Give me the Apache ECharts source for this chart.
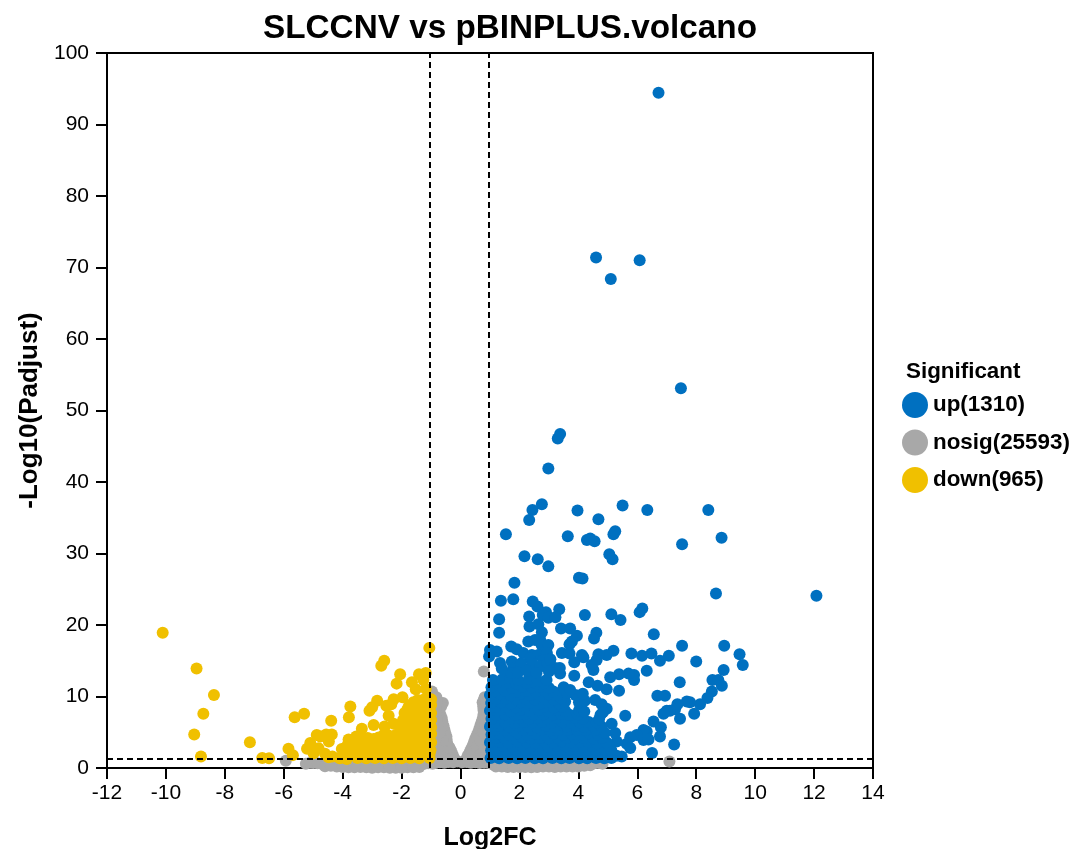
<!DOCTYPE html>
<html><head><meta charset="utf-8">
<style>html,body{margin:0;padding:0;background:#fff}#c{width:1072px;height:849px}</style>
<script src="https://cdn.jsdelivr.net/npm/echarts@6/dist/echarts.min.js"></script>
</head><body><div id="c"></div>
<script>
const seriesNames = ['up(1310)', 'nosig(25593)', 'down(965)'];
const thresholdX = [-1.03, 0.97];
const thresholdY = [1.3];

const upPoints = [
[6.72,94.45],[4.6,71.4],[6.08,71],[5.1,68.4],[7.48,53.1],[3.38,46.7],[3.3,46.1],[2.98,41.9],
[2.76,36.9],[2.44,36.1],[2.33,34.7],[1.54,32.7],[3.97,36],[4.68,34.8],[5.5,36.7],[6.34,36.1],[8.41,36.1],[8.86,32.2],[7.52,31.3],
[3.64,32.4],[4.29,31.9],[4.4,32.1],[4.55,31.7],[5.19,32.7],[5.25,33.1],[5.05,29.9],[5.16,29.2],[2.17,29.6],[2.62,29.2],[2.98,28.2],
[4.02,26.6],[4.14,26.5],[1.83,25.9],[8.67,24.4],[12.08,24.1],[1.37,23.4],[1.79,23.6],[2.45,23.3],[2.61,22.6],[3.35,22.2],[2.9,21.8],[2.79,21.4],
[2.98,21],[3.22,21.1],[2.33,21.2],[4.22,21.4],[5.12,21.5],[5.43,20.7],[6.17,22.3],[6.08,21.8],[1.31,20.8],[1.31,18.9],[2.34,19.8],[2.64,20.1],
[2.76,19],[3.41,19.5],[3.72,19.5],[3.95,18.5],[4.61,18.9],[4.53,18.1],[6.56,18.7],[2.7,18],[3.78,17.7],[3.7,17.3],[2.3,17.7],[2.53,17.9],[2.75,17.2],[2.98,17.2],
[7.52,17.1],[8.95,17.1],[1.72,17],[1.91,16.6],[1,16.5],[1.23,16.3],[0.97,15.6],[3.44,16.1],[3.7,16],[4.12,15.8],[5.19,16.4],[4.96,15.8],[4.68,15.9],
[5.8,16],[6.16,15.7],[6.48,16],[7.07,15.7],[6.77,15],[8,14.9],[9.47,15.9],[9.58,14.4],[8.93,13.7],[8.55,12.3],[8.75,12.3],[8.87,11.5],[8.53,10.7],[8.38,9.8],[8.13,8.9],
[7.93,7.6],[7.79,9.2],[7.68,9.3],[7.45,6.9],[7.44,12],[7.36,8.9],[7.28,8.2],[7.11,8],[7,8],[6.89,7.6],[6.94,10.1],[6.68,10.1],[6.55,6.5],[6.8,5.7],[6.77,4.4],[7.25,3.3],[6.5,2.1],
[6.32,13.6],[5.89,12.3],[5.89,13],[5.7,13.2],[5.38,13.1],[5.08,12.7],[5.38,10.8],[4.96,11],[4.65,11.5],[4.35,12],[3.86,12.9],[4.51,13.7],[4.45,14.4],[4.62,15.1],[4.17,15.5],[3.86,14.8],
[3.32,13.9],[3.21,13.9],[3.38,13.2],[5.59,7.3],[6.32,5.1],[6.21,5.3],[5.98,4.6],[5.76,4.3],[5.64,3.4],[5.76,2.8],[5.47,1.6],[5.3,1.7],[6.21,3.9],[6.38,4],[5.3,3.7],[5.25,4.9],[5.13,6.2],[4.96,8.3],[4.79,8.9],[4.57,9.5],
[2.13,16.1],[2.42,15.8],[2.64,15.8],[2.93,16.1],[2.36,15.3],[2.81,15.1],[1.34,14.7],[1.74,14.9],[1.79,14],[3.2,14],[3.37,14],
[2.14,13.9],[1.55,13.2],[2.45,14.5],[2.05,14.6],[2.7,14.2],[2.95,14.7],[3.05,15.2],
[1.02,1.4],[1.31,1.35],[1.63,1.4],[1.92,1.36],[2.2,1.4],[2.52,1.38],[2.8,1.35],[3.12,1.4],[3.42,1.36],[3.7,1.4],[4.02,1.35],[4.3,1.38],[4.6,1.4],[4.88,1.37],[5.12,1.4],
[1.15,1.95],[1.47,2],[1.78,1.9],[2.08,2],[2.36,1.95],[2.66,2],[2.96,1.9],[3.27,2],[3.56,1.95],[3.86,2],[4.16,1.9],[4.46,2],[4.74,1.95],[5.02,2],
[1.04,2.5],[1.3,2.6],[1.6,2.45],[1.9,2.6],[2.22,2.5],[2.5,2.65],[2.82,2.45],[3.1,2.6],[3.4,2.5],[3.72,2.62],[4,2.45],[4.32,2.6],[4.6,2.5],[4.9,2.55],[5.12,2.45],
[1.16,3.05],[1.46,3.1],[1.76,3],[2.07,3.15],[2.38,3.05],[2.68,3.1],[2.98,3],[3.28,3.1],[3.58,3.05],[3.87,3.1],[4.18,3],[4.47,3.1],[4.78,3],[5.04,3.1],
[1,3.6],[1.33,3.7],[1.62,3.55],[1.95,3.72],[2.25,3.6],[2.55,3.5],[2.85,3.7],[3.15,3.6],[3.45,3.75],[3.75,3.55],[4.05,3.7],[4.35,3.6],[4.62,3.45],[4.95,3.6],
[1.2,4.2],[1.48,4.25],[1.8,4.15],[2.1,4.25],[2.4,4.15],[2.7,4.2],[3,4.15],[3.3,4.25],[3.6,4.2],[3.9,4.15],[4.2,4.2],[4.5,4.15],[4.8,4.2],
[1.05,4.7],[1.35,4.8],[1.65,4.65],[1.92,4.85],[2.28,4.7],[2.58,4.8],[2.88,4.65],[3.18,4.85],[3.48,4.7],[3.78,4.8],[4.08,4.65],[4.38,4.85],[4.68,4.6],[4.9,4.9],
[1.18,5.3],[1.5,5.35],[1.82,5.25],[2.13,5.4],[2.44,5.3],[2.74,5.35],[3.05,5.25],[3.35,5.35],[3.65,5.3],[3.95,5.35],[4.25,5.3],[4.6,5.35],
[1,5.8],[1.32,5.9],[1.66,5.75],[1.98,5.95],[2.3,5.8],[2.6,5.7],[2.9,5.95],[3.22,5.75],[3.62,5.85],[3.92,5.9],[4.2,5.75],[4.5,5.95],[4.78,5.8],
[1.2,6.35],[1.52,6.4],[1.84,6.3],[2.16,6.45],[2.46,6.35],[2.78,6.45],[3.08,6.35],[3.48,6.4],[3.76,6.35],[4.05,6.4],[4.35,6.45],[4.62,6.35],
[1.05,6.9],[1.36,7],[1.68,6.85],[2,7],[2.32,6.85],[2.62,7.05],[2.94,6.9],[3.26,7],[3.58,6.85],[3.9,7],[4.15,6.9],[4.7,6.8],
[1.2,7.45],[1.52,7.5],[1.85,7.4],[2.18,7.55],[2.5,7.45],[2.82,7.5],[3.14,7.45],[3.42,7.55],[3.7,7.45],[3.98,7.5],[4.75,7.4],
[1,8],[1.34,8.1],[1.7,7.95],[2.02,8.1],[2.35,8],[2.66,8.15],[2.98,7.95],[3.3,8.1],[3.55,8],[4.02,8.05],[4.2,7.9],[4.83,7.8],
[1.18,8.55],[1.52,8.6],[1.88,8.5],[2.2,8.65],[2.52,8.55],[2.84,8.6],[3.18,8.5],[3.45,8.6],[4.08,8.6],
[1.04,9.1],[1.38,9.2],[1.72,9.05],[2.05,9.2],[2.38,9.1],[2.7,9],[3.02,9.2],[3.34,9.05],[3.55,9.3],[4.02,9.2],[4.22,9.4],
[1.2,9.65],[1.55,9.7],[1.88,9.6],[2.2,9.75],[2.52,9.6],[2.85,9.7],[3.18,9.6],[3.42,9.75],
[1,10.2],[1.35,10.3],[1.7,10.15],[2.02,10.35],[2.36,10.2],[2.68,10.1],[3,10.3],[3.3,10.2],[3.9,10.2],[4.15,10.4],
[1.18,10.75],[1.52,10.8],[1.88,10.7],[2.22,10.85],[2.55,10.75],[2.85,10.8],[3.15,10.7],[3.62,10.5],
[1.05,11.3],[1.4,11.4],[1.75,11.25],[2.08,11.4],[2.42,11.3],[2.72,11.4],[3,11.2],[3.5,11.3],[3.72,10.9],
[1.22,11.85],[1.58,11.9],[1.9,11.8],[2.25,11.9],[2.58,11.8],[2.82,11.85],
[1.1,12.3],[1.42,12.4],[1.68,12.6],[1.95,12.3],[2.32,12.5],[2.62,12.2],[2.92,12.3],
[1.72,13.3],[1.95,13.4],[2.25,13.6],[2.58,13.3],[3,13.5],
[1.4,13.9]
];

const nosigPoints = [
[-5.93,1],[7.09,0.9],[0.79,13.5],[-0.6,9.1],[-0.97,10.7],[-0.82,9.9],
[-5.25,0.6],[-5,0.7],[-4.7,0.6],[-4.4,0.7],[-4.1,0.65],[-3.8,0.7],[-3.5,0.6],[-3.2,0.7],[-2.9,0.65],[-2.6,0.7],[-2.3,0.6],[-2,0.7],[-1.7,0.65],[-1.4,0.7],[-1.1,0.65],
[-0.85,0.7],[-0.55,0.75],[-0.25,0.8],[0.05,0.8],[0.35,0.75],[0.65,0.7],[0.95,0.7],[1.25,0.65],[1.55,0.7],[1.85,0.6],[2.15,0.7],[2.45,0.65],[2.75,0.6],[3.05,0.7],[3.35,0.65],[3.65,0.6],[3.95,0.7],[4.25,0.6],[4.55,0.65],[4.82,0.6],
[-5.1,0.75],[-4.85,0.65],[-4.55,0.6],[-4.25,0.65],[-3.95,0.6],[-3.65,0.65],[-3.35,0.6],[-3.05,0.55],[-2.75,0.6],[-2.45,0.5],[-2.15,0.55],[-1.85,0.5],[-1.55,0.5],[-1.25,0.55],[-0.95,0.6],[-0.7,0.8],[-0.4,0.85],[-0.1,0.9],[0.2,0.85],[0.5,0.8],[0.8,0.75],
[1.1,0.5],[1.4,0.45],[1.7,0.5],[2,0.4],[2.3,0.45],[2.6,0.4],[2.9,0.45],[3.2,0.4],[3.5,0.45],[3.8,0.4],[4.1,0.45],[4.4,0.6],[4.7,0.7],
[-4.6,0.25],[-4.2,0.2],[-3.8,0.1],[-3.4,0.15],[-3,0.05],[-2.6,0.1],[-2.2,0.05],[-1.8,0.1],[-1.4,0.15],[1.2,0.2],[1.6,0.15],[2,0.15],[2.4,0.1],[2.8,0.2],[3.2,0.15],[3.6,0.2],[4,0.2],[4.4,0.4],
[-4.4,0.3],[-4,0.15],[-3.6,0.1],[-3.2,0.1],[-2.8,0.1],[-2.4,0.05],[-2,0.05],[-1.6,0.1],[1.4,0.2],[1.8,0.15],[2.2,0.15],[2.6,0.15],[3,0.2],[3.4,0.2],[3.8,0.2],[4.2,0.3],
[-0.22,1.4],[-0.32,2.4],[-0.45,3.4],[-0.48,4.4],[-0.55,5.4],[-0.62,6.5],[-0.68,7.4],[-0.75,8.3],
[-0.27,1.9],[-0.38,2.9],[-0.47,3.9],[-0.52,4.9],[-0.58,5.9],[-0.64,7],[-0.72,7.9],[-0.66,8.6],
[-0.5,1.3],[-0.6,2.4],[-0.75,3.4],[-0.72,4.5],[-0.82,5.5],[-0.85,6.6],[-0.9,7.6],[-0.92,8.8],[-0.88,1.4],[-0.95,2.5],[-0.95,3.6],[-0.95,4.8],
[-0.7,1.9],[-0.78,2.9],[-0.62,3.9],[-0.85,4],[-0.7,5],[-0.92,5],[-0.78,6],[-0.95,6],[-0.82,7.1],[-0.95,7.1],[-0.85,8.1],[-0.8,9],
[0.2,1.3],[0.32,2.3],[0.42,3.2],[0.5,4.1],[0.6,5],[0.68,6],[0.76,7],[0.78,8.1],[0.75,9.2],[0.82,9.9],
[0.25,1.8],[0.37,2.75],[0.46,3.65],[0.55,4.55],[0.64,5.5],[0.72,6.5],[0.78,7.5],[0.77,8.6],[0.8,9.6],
[0.5,1.4],[0.65,2.4],[0.75,3.3],[0.8,4.4],[0.88,5.4],[0.9,6.4],[0.92,7.4],[0.9,8.6],[0.85,1.4],[0.9,2.5],
[0.4,1.9],[0.55,2.9],[0.7,1.9],[0.68,3.8],[0.8,2.9],[0.9,3.8],[0.78,5],[0.85,6],[0.88,7],[0.9,8],[0.88,9.2]
];

const downPoints = [
[-10.11,18.9],[-8.96,13.9],[-8.37,10.2],[-8.73,7.6],[-9.04,4.7],[-8.81,1.6],[-7.15,3.6],[-6.73,1.4],[-6.5,1.35],[-5.84,2.7],[-5.69,1.8],[-5.63,7.1],[-5.31,7.6],
[-5.1,3.5],[-5.21,2.7],[-4.82,2.75],[-4.99,2.05],[-4.88,4.6],[-4.76,4.4],[-4.56,4.7],[-4.37,4.7],[-4.47,3.7],[-4.39,6.6],[-3.79,7.1],[-3.74,8.6],[-3.35,5.5],[-2.95,6],
[-3.09,8],[-3,8.5],[-2.83,9.4],[-2.52,8.7],[-2.44,7.3],[-2.58,5.8],[-2.27,6.2],[-2.27,9.6],[-1.97,9.9],[-2.69,14.3],[-2.59,15],[-2.05,13.1],[-2.17,11.8],[-1.65,12],[-1.52,11],
[-1.41,13.1],[-1.18,13.3],[-1.26,12.3],[-1.18,11.1],[-1.06,16.8],[-4.03,2.66],[-3.8,4],[-3.54,4.4],[-3.29,4.15],[-2.95,4.05],[-2.61,4.6],[-2.35,8.9],
[-4.48,1.5],[-4.1,1.35],[-3.86,1.25],[-3.5,1.4],[-3.2,1.35],[-2.9,1.4],[-2.6,1.35],[-2.3,1.4],[-2,1.35],[-1.7,1.4],[-1.4,1.35],[-1.05,1.4],
[-4.6,2],[-4.35,1.6],[-3.72,1.9],[-3.45,2],[-3.15,1.95],[-2.85,2],[-2.55,1.95],[-2.25,2],[-1.95,1.9],[-1.65,2],[-1.35,1.95],[-1.05,2],
[-3.95,2.5],[-3.6,2.6],[-3.3,2.45],[-3,2.6],[-2.7,2.5],[-2.4,2.65],[-2.1,2.5],[-1.8,2.6],[-1.5,2.45],[-1.2,2.6],[-1.02,2.5],
[-3.85,3.1],[-3.5,3.1],[-3.2,3.05],[-2.9,3.1],[-2.62,3.05],[-2.35,3.1],[-2.05,3.05],[-1.75,3.15],[-1.45,3.05],[-1.15,3.1],
[-3.75,3.6],[-3.4,3.5],[-3.1,3.65],[-2.8,3.5],[-2.5,3.7],[-2.2,3.55],[-1.9,3.7],[-1.6,3.6],[-1.3,3.65],[-1,3.6],
[-3.15,4.2],[-2.78,4.25],[-2.38,4.15],[-2.05,4.2],[-1.75,4.2],[-1.45,4.2],[-1.15,4.25],
[-2.5,4.7],[-2.2,4.6],[-2.05,4.9],[-1.85,4.7],[-1.55,4.8],[-1.25,4.65],[-1,4.8],
[-2.02,5.3],[-1.7,5.3],[-1.4,5.25],[-1.1,5.3],
[-2.05,5.6],[-1.8,5.8],[-1.5,5.6],[-1.2,5.8],[-1,5.7],
[-1.95,6.2],[-1.6,6.25],[-1.3,6.2],[-1.05,6.2],
[-1.95,6.7],[-1.7,6.8],[-1.42,6.65],[-1.18,6.8],[-1,6.7],
[-1.82,7.25],[-1.55,7.25],[-1.3,7.2],[-1.08,7.25],
[-1.9,7.7],[-1.65,7.8],[-1.4,7.7],[-1.18,7.85],[-1,7.7],
[-1.8,8.25],[-1.55,8.3],[-1.3,8.25],[-1.08,8.3],
[-1.75,8.7],[-1.5,8.85],[-1.25,8.7],[-1,8.8],[-1.6,9.2],[-1.35,9.25],[-1.1,9.2],[-1.45,9.5],[-1.2,9.7],[-1,9.6]
];

const font = '"Liberation Sans", Arial, sans-serif';
const seriesData = [upPoints, nosigPoints, downPoints];
const seriesColors = ['#0070C0', '#A8A8A8', '#F0C000'];
const seriesZ = [4, 2, 3];
const dash = { color: '#000', width: 2, type: [6, 4] };

const chart = echarts.init(document.getElementById('c'));
chart.setOption({
  animation: false,
  backgroundColor: '#fff',
  title: [
    { text: 'SLCCNV vs pBINPLUS.volcano', left: 505, textAlign: 'center', top: 7,
      textStyle: { fontFamily: font, fontSize: 33.3, fontWeight: 'bold', color: '#000' } },
    { text: 'Significant', left: 901, top: 356,
      textStyle: { fontFamily: font, fontSize: 22.4, fontWeight: 'bold', color: '#000' } }
  ],
  grid: { left: 107, right: 199, top: 53, bottom: 81, outerBoundsMode: 'none', show: true, borderColor: '#000', borderWidth: 2, backgroundColor: 'transparent' },
  legend: {
    orient: 'vertical', left: 897, top: 387, itemWidth: 26, itemHeight: 26, itemGap: 11.5,
    icon: 'circle', data: seriesNames,
    textStyle: { fontFamily: font, fontSize: 22.4, fontWeight: 'bold', color: '#000' }
  },
  xAxis: {
    type: 'value', min: -12, max: 14, interval: 2, name: 'Log2FC', nameLocation: 'middle', nameGap: 58,
    nameTextStyle: { fontFamily: font, fontSize: 25, fontWeight: 'bold', color: '#000' },
    axisLine: { onZero: false, lineStyle: { color: '#000', width: 2 } },
    axisTick: { length: 11, lineStyle: { color: '#000', width: 2 } },
    axisLabel: { fontFamily: font, fontSize: 21, color: '#000', margin: 15 },
    splitLine: { show: false }
  },
  yAxis: {
    type: 'value', min: 0, max: 100, interval: 10, name: '-Log10(Padjust)', nameLocation: 'middle', nameGap: 64,
    nameTextStyle: { fontFamily: font, fontSize: 26, fontWeight: 'bold', color: '#000' },
    axisLine: { onZero: false, lineStyle: { color: '#000', width: 2 } },
    axisTick: { length: 11, lineStyle: { color: '#000', width: 2 } },
    axisLabel: { fontFamily: font, fontSize: 21, color: '#000', margin: 18 },
    splitLine: { show: false }
  },
  series: seriesNames.map((name, i) => ({
    name, type: 'scatter', data: seriesData[i], symbolSize: 12, clip: false, z: seriesZ[i],
    itemStyle: { color: seriesColors[i], opacity: 1 }
  })).concat([{
    name: 'thresholds', type: 'scatter', data: [], z: 10,
    markLine: {
      silent: true, symbol: 'none', z: 10, animation: false, label: { show: false }, lineStyle: dash,
      data: thresholdX.map(v => ({ xAxis: v })).concat(thresholdY.map(v => ({ yAxis: v })))
    }
  }])
});
</script></body></html>
